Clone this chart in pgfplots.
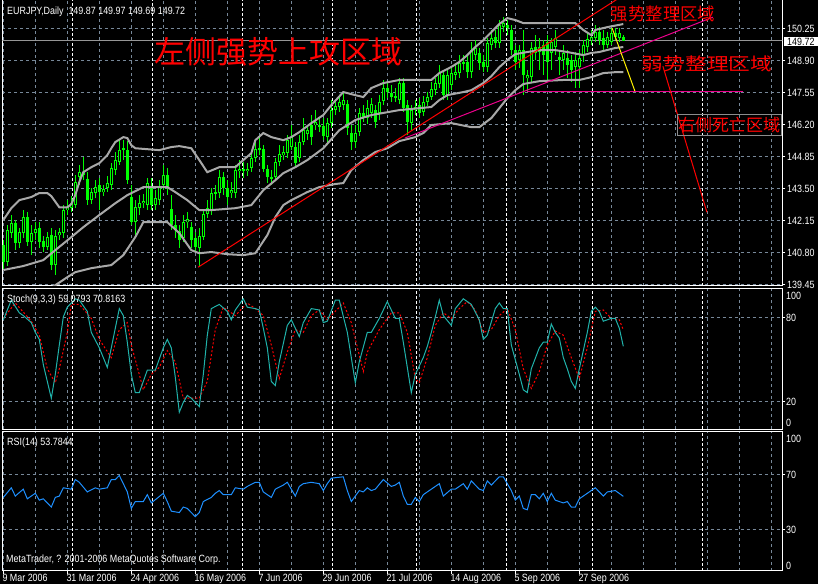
\documentclass[border=0pt]{standalone}
\usepackage{pgfplots}
\pgfplotsset{compat=1.18}
\usepackage{pgfplotstable}
\usepackage{fontspec}
\setmainfont{Liberation Sans}[FakeStretch=0.85]
\newfontfamily\cjk{Noto Sans CJK SC}
\newfontfamily\cjkwide{Noto Sans CJK SC}[FakeStretch=1.24]
\newcommand\mt{\fontsize{10.5}{12}\selectfont}
\definecolor{gridc}{RGB}{119,136,153}
\definecolor{bandc}{RGB}{168,168,168}
\definecolor{candle}{RGB}{0,255,0}
\definecolor{stochc}{RGB}{32,178,170}
\definecolor{rsic}{RGB}{30,144,255}
\definecolor{pricel}{RGB}{150,150,150}
\definecolor{boxc}{RGB}{140,140,140}

\pgfplotstableread{
i o h l c
0 141.09 141.30 140.04 140.37
1 140.37 141.94 140.20 141.72
2 141.60 142.36 141.39 142.02
3 142.02 142.15 140.88 141.18
4 141.18 141.81 140.96 141.64
5 141.60 142.57 141.39 142.27
6 142.27 142.48 141.05 141.22
7 141.22 141.94 140.67 141.60
8 141.60 142.06 141.30 141.77
9 141.81 142.06 140.96 141.22
10 141.26 141.47 140.80 141.01
11 141.01 141.64 140.88 141.43
12 141.51 141.81 140.04 140.25
13 140.25 141.72 139.83 141.47
14 141.51 141.81 141.30 141.64
15 141.60 142.78 141.39 142.57
16 142.57 142.99 142.36 142.69
17 142.65 143.16 142.48 142.86
18 142.78 144.05 142.65 143.75
19 143.96 144.47 143.63 144.17
20 144.17 144.80 143.83 144.05
21 143.88 144.17 142.78 142.99
22 142.99 143.50 142.82 143.33
23 143.29 143.83 143.07 143.54
24 143.63 143.92 142.57 143.33
25 143.33 143.63 143.16 143.45
26 143.50 144.00 143.33 143.71
27 143.63 144.55 143.41 144.34
28 144.26 145.02 144.05 144.68
29 144.59 145.52 144.47 145.10
30 145.10 145.52 144.68 145.18
31 145.10 145.48 143.67 143.83
32 143.12 143.63 141.94 142.06
33 142.06 142.99 141.51 142.69
34 142.65 143.20 142.36 142.86
35 142.86 143.24 142.65 142.95
36 142.78 143.92 142.57 143.71
37 143.50 143.92 142.57 142.78
38 142.78 143.41 142.57 143.07
39 142.99 143.83 142.78 143.54
40 143.63 144.47 143.41 144.05
41 144.05 144.34 143.20 143.50
42 142.61 143.20 141.72 141.94
43 141.94 142.36 141.39 141.72
44 141.68 141.94 140.96 141.30
45 141.39 142.36 141.22 142.06
46 142.06 142.48 141.81 142.19
47 141.85 142.06 140.96 141.30
48 141.39 141.64 140.80 141.01
49 140.96 141.81 140.16 141.47
50 141.43 142.57 141.30 142.40
51 142.40 142.99 142.23 142.65
52 142.57 143.50 142.36 143.29
53 143.29 143.63 142.99 143.33
54 143.29 144.26 143.07 143.96
55 143.96 144.17 143.20 143.50
56 143.50 143.83 142.78 143.12
57 143.29 143.75 143.07 143.41
58 143.29 144.47 143.07 144.26
59 144.21 144.68 143.92 144.30
60 144.30 144.59 143.92 144.21
61 144.21 144.55 144.00 144.30
62 144.34 145.02 144.17 144.76
63 144.76 145.44 144.59 145.14
64 145.10 145.73 144.89 145.18
65 145.14 145.31 144.17 144.30
66 144.30 144.47 143.71 143.96
67 143.96 144.26 143.63 143.88
68 143.96 144.76 143.83 144.59
69 144.59 145.31 144.42 144.93
70 144.89 145.27 144.68 145.02
71 144.97 145.73 144.76 145.52
72 145.23 146.16 145.10 145.65
73 145.23 145.44 144.34 144.55
74 144.76 145.73 144.59 145.44
75 145.44 146.45 145.31 145.94
76 145.78 146.16 145.52 145.94
77 146.16 146.58 145.31 145.65
78 146.16 146.79 145.94 146.28
79 146.16 146.45 145.86 146.07
80 146.11 146.45 145.52 145.69
81 145.65 146.45 145.31 146.24
82 146.24 147.21 146.03 146.79
83 146.79 147.21 146.58 146.96
84 146.92 147.42 146.70 147.13
85 147.00 147.55 146.79 147.21
86 147.04 147.21 145.73 146.03
87 145.82 146.16 145.10 145.44
88 145.44 146.16 145.18 145.82
89 145.86 146.88 145.69 146.66
90 146.66 147.00 146.28 146.45
91 146.45 147.21 146.20 146.88
92 146.66 147.30 146.45 147.04
93 146.79 147.00 146.03 146.28
94 146.66 147.42 146.37 147.13
95 147.17 148.06 147.00 147.72
96 147.72 147.97 147.30 147.55
97 147.51 147.85 147.13 147.34
98 147.38 147.72 147.13 147.34
99 147.21 148.14 147.04 147.93
100 147.93 148.14 146.70 146.88
101 147.00 147.21 145.73 146.28
102 146.24 147.00 145.94 146.79
103 146.79 147.21 146.58 146.92
104 147.00 147.30 146.45 146.66
105 146.70 147.38 146.54 147.13
106 147.13 147.55 146.96 147.34
107 147.34 147.97 147.21 147.68
108 147.63 148.14 147.42 147.93
109 147.89 148.69 147.72 148.35
110 148.27 148.48 147.21 147.42
111 147.38 148.48 147.21 148.27
112 147.85 148.56 147.63 148.35
113 148.27 148.69 148.06 148.40
114 148.35 149.11 148.14 148.77
115 148.77 149.11 148.48 148.82
116 148.82 149.11 148.14 148.40
117 148.40 149.66 148.14 149.32
118 149.11 149.74 148.90 149.41
119 149.20 149.41 148.48 148.77
120 148.82 149.11 148.40 148.61
121 148.61 149.83 148.40 149.62
122 149.53 150.17 149.32 149.83
123 149.87 150.17 149.41 149.62
124 149.62 150.59 149.41 150.38
125 150.29 150.72 150.08 150.46
126 150.38 150.59 149.95 150.25
127 150.17 150.38 149.11 149.32
128 149.32 149.53 148.48 148.82
129 148.90 149.53 148.56 149.32
130 149.32 150.17 147.42 148.27
131 148.14 148.48 147.55 148.27
132 148.18 149.66 147.97 149.41
133 149.45 149.95 148.90 149.20
134 149.24 149.83 148.48 149.45
135 149.53 149.74 148.27 149.11
136 149.66 149.95 148.06 148.82
137 149.20 149.83 148.48 149.66
138 149.45 150.17 149.11 149.83
139 149.03 149.32 148.27 148.90
140 148.90 149.53 148.48 149.20
141 148.99 149.32 148.14 148.69
142 148.90 149.11 147.97 148.48
143 148.61 149.24 147.72 148.90
144 148.61 149.32 147.72 148.99
145 149.11 149.74 148.82 149.53
146 149.45 150.08 149.24 149.78
147 149.74 150.17 149.53 149.87
148 149.83 150.38 149.66 150.08
149 150.08 150.29 149.53 149.74
150 149.83 150.17 149.32 149.53
151 149.53 150.08 149.41 149.87
152 149.66 150.25 149.53 150.04
153 150.04 150.25 149.74 149.87
154 149.83 150.25 149.66 150.04
155 149.87 149.97 149.69 149.72
}\ohlc

\pgfplotsset{
 mtaxis/.style={
  scale only axis, width=779.8pt, xmin=-0.2, xmax=194.75,
  axis line style={white, line width=1pt},
  tick align=outside, major tick length=3pt, minor tick length=0pt,
  xtick={0,16,...,144},
  minor xtick={8,24,40,56,72,88,104,120,136,152,160,168,176,184,192},
  xticklabels={}, yticklabels={},
  grid=both,
  major grid style={draw=gridc, line width=1pt, dash pattern=on 3pt off 3pt},
  minor grid style={draw=gridc, line width=1pt, dash pattern=on 3pt off 3pt},
  extra x ticks={17.2,37.2,59.9,82.2,103.2,125.9,147.2,174.9},
  extra x tick labels={},
  extra x tick style={grid=major, major grid style={draw=white, line width=1pt, dash pattern=on 3pt off 2pt}, major tick length=0pt},
  xtick pos=left, ytick pos=right,
  ytick style={draw=white, line width=1pt},
  xtick style={draw=none},
 },
}

\begin{document}
\begin{tikzpicture}
\fill[black] (0,0) rectangle (818pt,584pt);

% ---------------- price panel ----------------
\begin{axis}[mtaxis, at={(2.5pt,298.3pt)}, anchor=south west, height=285.7pt,
  ymin=139.38, ymax=151.435,
  ytick={139.45,140.80,142.15,143.50,144.85,146.20,147.55,148.90,150.25}]
\addplot[pricel, line width=1pt] coordinates {(-1,149.72) (196,149.72)};
% wicks
\addplot[draw=none, mark=none, error bars/.cd, y dir=both, y explicit,
  error bar style={draw=candle, solid, line width=1pt}, error mark=none]
  table[x=i, y expr={(\thisrow{h}+\thisrow{l})/2}, y error expr={(\thisrow{h}-\thisrow{l})/2}] {\ohlc};
% bodies
\addplot[draw=none, mark=none, error bars/.cd, y dir=both, y explicit,
  error bar style={draw=candle, solid, line width=3pt}, error mark=none]
  table[x=i, y expr={(\thisrow{o}+\thisrow{c})/2}, y error expr={abs(\thisrow{o}-\thisrow{c})/2}] {\ohlc};
% hollow interior of rising candles
\addplot[draw=none, mark=none, error bars/.cd, y dir=both, y explicit,
  error bar style={draw=black, solid, line width=1pt}, error mark=none]
  table[x=i, y expr={(\thisrow{o}+\thisrow{c})/2}, y error expr={\thisrow{c}>\thisrow{o} ? max((\thisrow{c}-\thisrow{o})/2-0.042,0) : 0}] {\ohlc};
% Bollinger bands
\addplot[bandc, line width=2pt] coordinates {(0,142.15)(2,142.65)(4,142.99)(7,143.12)(9,143.29)(11,143.29)(12,143.16)(14,142.69)(16,142.69)(17,142.82)(18,143.20)(19,143.75)(20,144.17)(22,144.38)(24,144.55)(26,144.89)(27,145.18)(28,145.44)(30,145.65)(31,145.61)(32,145.31)(33,145.18)(36,145.14)(39,145.10)(42,145.23)(44,145.27)(47,145.18)(49,144.68)(51,144.17)(54,144.38)(58,144.38)(60,144.68)(62,144.97)(63,145.52)(65,145.82)(67,145.65)(70,145.52)(72,145.65)(74,145.86)(77,146.24)(80,146.58)(82,147.00)(85,147.55)(88,147.42)(90,147.34)(92,147.72)(95,147.93)(99,148.06)(104,148.06)(107,148.06)(109,148.35)(112,148.61)(114,148.82)(116,149.11)(118,149.45)(120,149.74)(122,150.08)(124,150.42)(126,150.67)(128,150.59)(130,150.46)(135,150.46)(140,150.46)(143,150.46)(145,150.17)(147,149.95)(148,150.17)(151,150.29)(155,150.42)};
\addplot[bandc, line width=2pt] coordinates {(0,140.04)(5,140.21)(10,140.46)(13,140.88)(17,141.43)(20,141.85)(24,142.36)(28,142.86)(31,143.20)(35,143.54)(41,143.54)(43,143.33)(46,142.99)(49,142.57)(52,142.57)(58,142.65)(62,142.78)(65,143.41)(68,143.83)(70,144.13)(73,144.38)(76,144.68)(80,145.18)(84,145.94)(88,146.37)(92,146.58)(96,146.70)(99,146.79)(104,146.87)(107,146.92)(109,147.21)(111,147.42)(115,147.55)(117,147.63)(120,147.93)(122,148.22)(124,148.60)(126,148.90)(128,149.15)(131,149.24)(134,149.32)(138,149.32)(141,149.24)(145,149.11)(147,149.20)(149,149.24)(153,149.41)(155,149.45)};
\addplot[bandc, line width=2pt] coordinates {(0,138.35)(5,138.77)(10,139.11)(13,139.40)(16,139.74)(18,139.95)(22,140.12)(27,140.25)(30,140.67)(33,141.43)(35,142.06)(41,142.06)(44,141.60)(47,140.88)(49,140.75)(52,140.80)(56,140.71)(60,140.67)(63,140.75)(66,141.51)(68,142.27)(70,142.78)(72,142.99)(76,143.33)(79,143.54)(83,143.67)(85,143.71)(87,144.26)(90,144.68)(93,145.02)(96,145.18)(99,145.48)(103,145.65)(105,145.82)(107,146.16)(112,146.24)(117,146.07)(119,146.07)(122,146.45)(124,146.87)(126,147.29)(128,147.63)(130,147.89)(134,148.01)(140,148.06)(144,148.06)(147,148.18)(150,148.35)(153,148.39)(155,148.39)};
% drawn trend lines
\addplot[red, line width=1pt] coordinates {(48.7,140.16) (154.5,151.58)};
\addplot[magenta, line width=1pt] coordinates {(100.4,145.61) (177.4,150.71)};
\addplot[magenta, line width=1pt] coordinates {(131,147.58) (185,147.58)};
\addplot[yellow, line width=1pt] coordinates {(152.2,150.25) (157.9,147.59)};
\addplot[red, line width=1pt] coordinates {(164.9,148.64) (175.9,142.48)};
\end{axis}

% ---------------- Stochastic panel ----------------
\begin{axis}[mtaxis, at={(2.5pt,155pt)}, anchor=south west, height=140.7pt,
  ymin=0, ymax=100.5, ytick={20,80}]
\addplot[red, line width=1pt, dash pattern=on 2pt off 2pt] coordinates {(0,79)(3,90)(7,77)(9,67)(11,43)(13,33)(14,43)(16,69)(17,89)(19,89)(22,79)(24,64)(27,51)(29,71)(31,76)(32,60)(34,39)(35,28)(37,39)(39,44)(41,56)(43,48)(45,22)(47,22)(49,22)(51,34)(53,71)(55,87)(58,81)(61,90)(63,86)(65,81)(67,60)(69,36)(71,55)(73,71)(75,69)(77,81)(79,85)(81,78)(85,90)(87,76)(90,41)(91,55)(94,71)(97,83)(99,83)(101,69)(103,36)(104,33)(106,51)(108,74)(110,83)(112,79)(114,86)(116,91)(118,85)(120,69)(122,71)(124,81)(126,86)(128,71)(130,43)(132,29)(134,41)(136,60)(138,70)(140,67)(142,51)(144,36)(146,58)(148,84)(150,85)(152,79)(154,78)(155,70.82)};
\addplot[stochc, line width=1pt] coordinates {(0,78)(2,92)(4,83)(5,81)(7,76)(8,69)(9,64)(10,46)(12,22)(13,39)(14,60)(15,80)(16,87)(18,93)(19,92)(21,84)(22,69)(24,58)(26,44)(27,58)(29,86)(30,81)(31,62)(32,39)(33,26)(34,26)(36,42)(37,42)(38,42)(40,58)(41,64)(42,58)(43,37)(44,12)(45,19)(46,24)(47,22)(48,19)(49,16)(50,39)(51,67)(52,86)(54,89)(56,84)(57,78)(58,85)(60,93)(61,87)(63,86)(64,85)(65,72)(66,58)(67,34)(68,31)(69,48)(71,74)(72,78)(73,72)(74,66)(75,76)(77,86)(79,85)(80,76)(81,77)(83,92)(84,92)(86,69)(88,33)(89,48)(91,69)(92,69)(94,79)(96,91)(98,79)(99,79)(100,62)(102,26)(103,39)(104,45)(105,51)(106,59)(107,69)(108,80)(109,92)(110,81)(112,74)(113,86)(115,93)(117,89)(119,78)(120,64)(121,67)(123,86)(124,90)(125,86)(126,86)(127,60)(129,39)(130,28)(131,26)(132,43)(134,58)(135,62)(136,62)(137,75)(138,69)(139,65)(140,51)(141,43)(142,34)(143,29)(144,43)(146,69)(147,84)(148,87)(149,84)(150,77)(152,79)(153,79)(154,72)(155,59.08)};
\end{axis}

% ---------------- RSI panel ----------------
\begin{axis}[mtaxis, at={(2.5pt,13.3pt)}, anchor=south west, height=139pt,
  ymin=-0.3, ymax=100.8, ytick={30,70},
  xtick style={draw=white, line width=1pt}]
\addplot[rsic, line width=1pt] coordinates {(0,53)(2,60)(3,54)(5,59)(6,52)(8,56)(9,51)(10,52)(12,46)(13,53)(14,54)(15,60)(17,59)(18,66)(19,64)(21,57)(23,60)(24,59)(26,60)(27,66)(28,66)(29,69)(31,57)(32,45)(33,50)(35,50)(36,55)(37,49)(40,56)(41,50)(42,43)(44,42)(45,46)(46,45)(47,42)(48,39)(49,42)(50,50)(52,53)(53,56)(54,58)(55,55)(56,55)(57,55)(58,60)(60,59)(61,61)(63,64)(64,64)(65,57)(67,53)(68,59)(70,62)(71,64)(73,54)(74,61)(75,63)(77,64)(79,63)(80,58)(81,63)(82,67)(85,68)(86,58)(87,50)(89,58)(90,57)(91,60)(92,58)(93,59)(95,66)(97,61)(98,62)(99,64)(100,54)(101,48)(102,48)(103,53)(104,50)(105,55)(106,57)(107,59)(108,61)(109,63)(110,54)(112,59)(113,59)(115,63)(116,59)(117,65)(119,59)(120,58)(121,65)(122,62)(124,68)(125,68)(127,58)(128,51)(129,54)(130,45)(131,44)(132,55)(133,55)(134,52)(135,56)(136,50)(137,56)(138,51)(140,49)(141,50)(142,46)(143,46)(144,52)(146,56)(148,60)(150,54)(151,57)(153,58)(155,53.78)};
\end{axis}

% ---------------- texts ----------------
\node[anchor=base west, inner sep=0pt, white, font=\mt] at (7pt,569.7pt) {EURJPY,Daily\ \ 149.87 149.97 149.69 149.72};
\node[anchor=base west, inner sep=0pt, white, font=\mt] at (7pt,281.7pt) {Stoch(9,3,3) 59.0793 70.8163};
\node[anchor=base west, inner sep=0pt, white, font=\mt] at (7pt,138.3pt) {RSI(14) 53.7844};
\node[anchor=base west, inner sep=0pt, white, font=\mt] at (6pt,21.3pt) {MetaTrader, ? 2001-2006 MetaQuotes Software Corp.};

\node[inner sep=0pt, red, font=\cjk\fontsize{31}{31}\selectfont] at (278.5pt,532pt) {左侧强势上攻区域};
\node[inner sep=0pt, red, font=\cjk\fontsize{17.4}{17.4}\selectfont] at (663pt,570pt) {强势整理区域};
\node[inner sep=0pt, red, font=\cjkwide\fontsize{17.5}{17.5}\selectfont] at (707pt,520.5pt) {弱势整理区域};
\draw[boxc, line width=1pt] (677pt,448pt) rectangle (781pt,469pt);
\node[inner sep=0pt, red, font=\cjk\fontsize{17}{17}\selectfont] at (729pt,458.5pt) {右侧死亡区域};

% right scale labels
\foreach \v/\y in {139.45/300.0,140.80/332.0,142.15/364.0,143.50/396.0,144.85/428.0,146.20/460.0,147.55/492.0,148.90/524.0,150.25/556.0}
  {\node[anchor=west, inner sep=0pt, white, font=\mt, yshift=-0.8pt] at (787pt,\y pt) {\v};}
\fill[white] (784pt,538pt) rectangle (818pt,547.3pt);
\node[anchor=west, inner sep=0pt, black, font=\mt, yshift=-0.5pt] at (787pt,542.6pt) {149.72};
\foreach \v/\y in {100/289,80/267,20/183,0/162,100/146,70/110,30/55,0/19}
  {\node[anchor=west, inner sep=0pt, white, font=\mt, yshift=-0.8pt] at (786pt,\y pt) {\v};}

% date labels
\foreach \x/\t in {3.3/9 Mar 2006,67.3/31 Mar 2006,131.3/24 Apr 2006,195.3/16 May 2006,259.3/7 Jun 2006,323.3/29 Jun 2006,387.3/21 Jul 2006,451.3/14 Aug 2006,515.3/5 Sep 2006,579.3/27 Sep 2006}
  {\node[anchor=base west, inner sep=0pt, white, font=\mt] at (\x pt-1pt,2.6pt) {\t};}

\pgfresetboundingbox
\useasboundingbox (0,0) rectangle (818pt,584pt);
\end{tikzpicture}
\end{document}
